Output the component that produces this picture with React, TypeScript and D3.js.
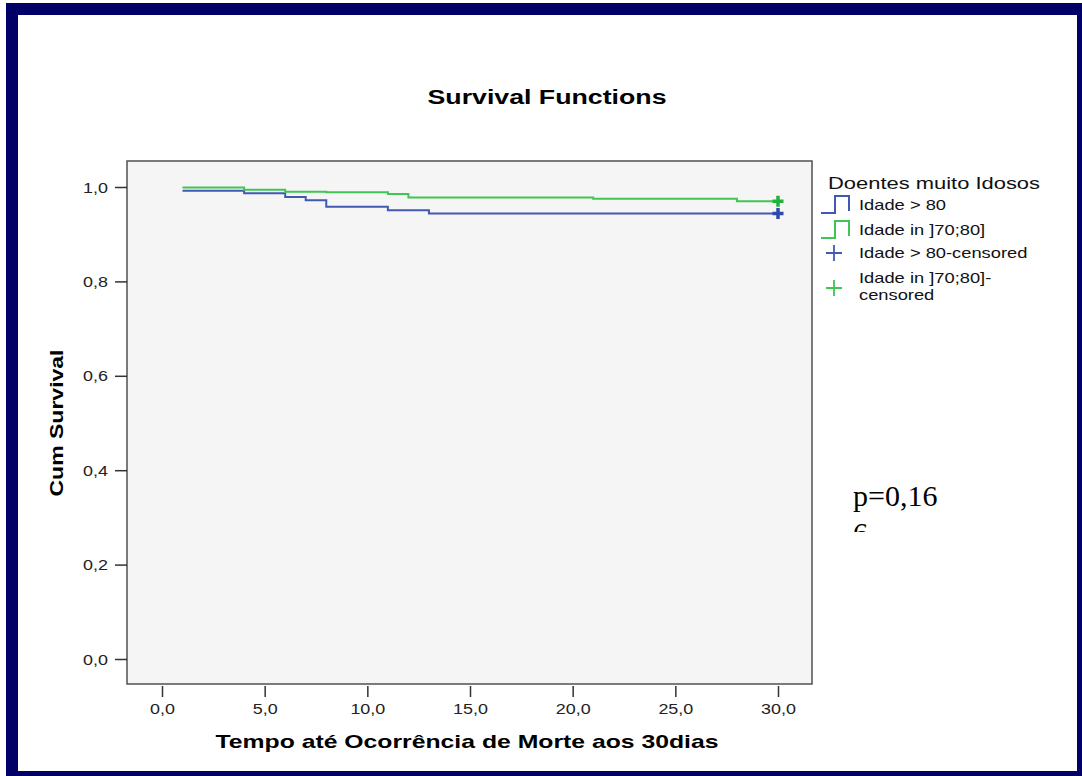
import React, { useEffect, useRef } from "react";
import * as d3 from "d3";

// Kaplan-Meier steps
const olderTimes = [1, 4, 6, 7, 8, 11, 13, 30];
const olderSurv = [0.992, 0.987, 0.979, 0.972, 0.958, 0.951, 0.944, 0.944];
const youngerTimes = [1, 4, 6, 8, 11, 12, 21, 28, 30];
const youngerSurv = [0.999, 0.994, 0.99, 0.989, 0.985, 0.978, 0.975, 0.97, 0.97];
const censorTimes = [30, 30];
const xTicks = [0, 5, 10, 15, 20, 25, 30];
const yTicks = [0, 0.2, 0.4, 0.6, 0.8, 1.0];
const legendLabels = [
  "Idade > 80",
  "Idade in ]70;80]",
  "Idade > 80-censored",
  ["Idade in ]70;80]-", "censored"],
];

const SANS = "'Liberation Sans', Arial, sans-serif";
const STRETCH = 1.28; // the original's glyphs are wider than Arial

const App = () => {
  const svgRef = useRef<SVGSVGElement>(null);

  useEffect(() => {
    const svg = d3.select(svgRef.current);
    svg.selectAll("*").remove();

    const plot = { left: 127, top: 161, right: 812, bottom: 684 };
    const blue = "#4259b4";
    const green = "#3fc553";

    const x = d3.scaleLinear().domain([0, 30]).range([162, 778]);
    const y = d3.scaleLinear().domain([0, 1]).range([659, 187]);
    const comma = (d: number) => d.toFixed(1).replace(".", ",");

    // widen sans text like the original renderer
    const stretch = (sel: any, target?: number) =>
      sel.each(function (this: SVGTextElement) {
        const w = target ?? this.getComputedTextLength() * STRETCH;
        this.setAttribute("textLength", String(w));
        this.setAttribute("lengthAdjust", "spacingAndGlyphs");
      });

    // outer frame
    svg
      .append("rect")
      .attr("width", 1082)
      .attr("height", 776)
      .attr("fill", "#fff");
    svg
      .append("rect")
      .attr("x", 12)
      .attr("y", 9)
      .attr("width", 1071)
      .attr("height", 768)
      .attr("fill", "none")
      .attr("stroke", "#000066")
      .attr("stroke-width", 12);

    // title
    svg
      .append("text")
      .attr("x", 547)
      .attr("y", 104)
      .attr("text-anchor", "middle")
      .style("font-family", SANS)
      .style("font-size", "20px")
      .style("font-weight", "bold")
      .text("Survival Functions")
      .call(stretch, 239);

    // plot area
    svg
      .append("rect")
      .attr("x", plot.left)
      .attr("y", plot.top)
      .attr("width", plot.right - plot.left)
      .attr("height", plot.bottom - plot.top)
      .attr("fill", "#f5f5f5")
      .attr("stroke", "#505050")
      .attr("stroke-width", 1.5);

    // y axis
    const yAxis = svg
      .append("g")
      .attr("transform", `translate(${plot.left},0)`)
      .call(
        d3
          .axisLeft(y)
          .tickValues(yTicks)
          .tickSize(12)
          .tickPadding(7)
          .tickFormat((d) => comma(+d))
      );
    yAxis.select(".domain").remove();
    yAxis.selectAll(".tick line").attr("stroke", "#333").attr("stroke-width", 1.5);
    yAxis
      .selectAll(".tick text")
      .attr("dy", "0.36em")
      .attr("fill", "#222")
      .style("font-family", SANS)
      .style("font-size", "14px")
      .call(stretch);

    // x axis
    const xAxis = svg
      .append("g")
      .attr("transform", `translate(0,${plot.bottom})`)
      .call(
        d3
          .axisBottom(x)
          .tickValues(xTicks)
          .tickSize(13)
          .tickFormat((d) => comma(+d))
      );
    xAxis.select(".domain").remove();
    xAxis
      .selectAll(".tick line")
      .attr("y1", 2)
      .attr("stroke", "#333")
      .attr("stroke-width", 1.5);
    xAxis
      .selectAll(".tick text")
      .attr("y", 30)
      .attr("dy", 0)
      .attr("fill", "#222")
      .style("font-family", SANS)
      .style("font-size", "14px")
      .call(stretch);

    // axis titles
    svg
      .append("text")
      .attr("x", 467)
      .attr("y", 748)
      .attr("text-anchor", "middle")
      .style("font-family", SANS)
      .style("font-size", "19px")
      .style("font-weight", "bold")
      .text("Tempo até Ocorrência de Morte aos 30dias")
      .call(stretch, 503);
    svg
      .append("text")
      .attr("transform", "translate(63,423) rotate(-90)")
      .attr("text-anchor", "middle")
      .style("font-family", SANS)
      .style("font-size", "18px")
      .style("font-weight", "bold")
      .text("Cum Survival")
      .call(stretch, 147);

    // survival curves
    const series = [
      { times: olderTimes, surv: olderSurv, color: blue, mark: "#3048a8" },
      { times: youngerTimes, surv: youngerSurv, color: green, mark: "#22b23a" },
    ];
    const step = d3
      .line<[number, number]>()
      .x((d) => x(d[0]))
      .y((d) => y(d[1]))
      .curve(d3.curveStepAfter);

    series.forEach((s) => {
      const pts = s.times.map((t, i) => [t, s.surv[i]] as [number, number]);
      svg
        .append("path")
        .attr("d", step(pts))
        .attr("fill", "none")
        .attr("stroke", s.color)
        .attr("stroke-width", 2);
    });

    // censored marks
    series.forEach((s, i) => {
      const cx = x(censorTimes[i]);
      const cy = y(s.surv[s.surv.length - 1]);
      svg
        .append("path")
        .attr("d", `M${cx - 5.5},${cy}H${cx + 5.5}M${cx},${cy - 5.5}V${cy + 5.5}`)
        .attr("stroke", s.mark)
        .attr("stroke-width", 3.5);
    });

    // legend
    const lg = svg.append("g");
    lg.append("text")
      .attr("x", 828)
      .attr("y", 189)
      .style("font-family", SANS)
      .style("font-size", "17px")
      .attr("fill", "#111")
      .text("Doentes muito Idosos")
      .call(stretch, 212);

    const stepIcon = (low: number, high: number, color: string) =>
      lg
        .append("path")
        .attr("d", `M821,${low}H835V${high}H849V${low - 2}`)
        .attr("fill", "none")
        .attr("stroke", color)
        .attr("stroke-width", 2);
    stepIcon(213, 196, blue);
    stepIcon(238, 221, green);

    const plusIcon = (cy: number, color: string) =>
      lg
        .append("path")
        .attr("d", `M826,${cy}H842M834,${cy - 8}V${cy + 8}`)
        .attr("stroke", color)
        .attr("stroke-width", 1.8);
    plusIcon(253, blue);
    plusIcon(288, green);

    const baselines = [[210], [235], [258], [283, 300]];
    legendLabels.forEach((lab, i) => {
      const lines = Array.isArray(lab) ? lab : [lab];
      lines.forEach((txt, j) => {
        lg.append("text")
          .attr("x", 859)
          .attr("y", baselines[i][j])
          .style("font-family", SANS)
          .style("font-size", "14.3px")
          .attr("fill", "#111")
          .text(txt)
          .call(stretch);
      });
    });

    // p-value note, clipped like the original text box
    svg
      .append("defs")
      .append("clipPath")
      .attr("id", "pbox")
      .append("rect")
      .attr("x", 840)
      .attr("y", 470)
      .attr("width", 140)
      .attr("height", 62);
    const pg = svg.append("g").attr("clip-path", "url(#pbox)");
    ["p=0,16", "6"].forEach((txt, i) => {
      pg.append("text")
        .attr("x", 853)
        .attr("y", 506 + i * 37)
        .style("font-family", "'Liberation Serif', 'Times New Roman', serif")
        .style("font-size", "30px")
        .attr("fill", "#000")
        .text(txt);
    });
  }, []);

  return (
    <svg
      ref={svgRef}
      width={1082}
      height={776}
      style={{ position: "absolute", left: 0, top: 0, display: "block" }}
    />
  );
};

export default App;
